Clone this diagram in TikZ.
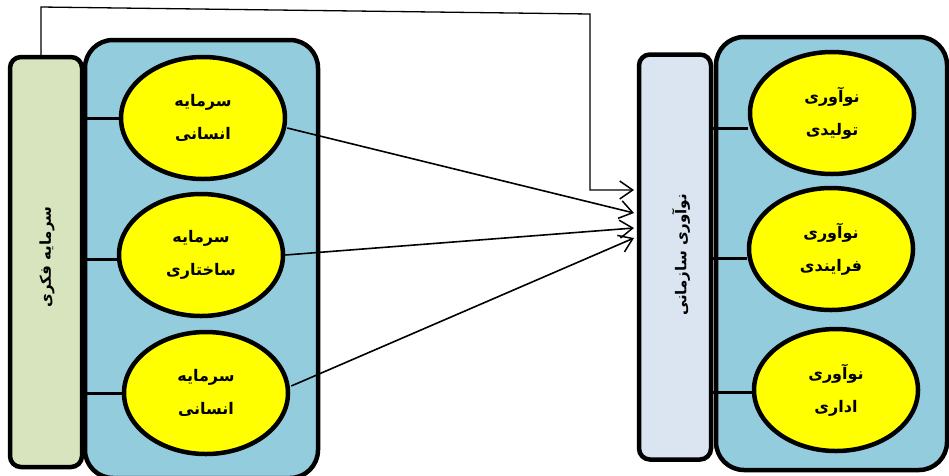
\documentclass[tikz,border=0pt]{standalone}
\usepackage{fontspec}
\usetikzlibrary{shapes.geometric,arrows.meta,calc}
\newfontfamily\fa[Script=Arabic]{DejaVu Sans}
\TeXXeTstate=1
\definecolor{barGreen}{HTML}{D7E4BD}
\definecolor{barBlue}{HTML}{DBE5F1}
\definecolor{boxBlue}{HTML}{93CDDD}
\definecolor{ellYellow}{HTML}{FFFF00}
\newcommand{\fatext}[1]{\beginR #1\endR}
\tikzset{
  bigbox/.style={draw=black, line width=4.5pt, fill=boxBlue, rounded corners=28pt},
  sidebar/.style={draw=black, line width=4.5pt, rounded corners=11pt, minimum width=72pt, minimum height=410pt, inner sep=0pt},
  ell/.style={ellipse, draw=black, line width=4.5pt, fill=ellYellow, minimum width=164pt, minimum height=122pt, inner sep=0pt,
    align=center, font=\fa\bfseries\fontsize{16}{33}\selectfont},
  barlabel/.style={rotate=90, font=\fa\bfseries\fontsize{15}{18}\selectfont},
  link/.style={line width=3pt},
  arr/.style={line width=1.6pt, -{Straight Barb[length=13pt,width=18pt,line width=1.5pt]}},
  fb/.style={line width=1.3pt, -{Straight Barb[length=13pt,width=18pt,line width=1.5pt]}}
}
\begin{document}
\begin{tikzpicture}[x=1pt,y=-1pt]
\useasboundingbox (0,0) rectangle (949,475);
% left group
\draw[bigbox] (85,40) rectangle (318,478);
\node[sidebar, fill=barGreen] (lbar) at (46,262) {};
\node[barlabel] (llab) at (47,257) {\fatext{سرمایه فکری}};
\node[ell] (e1) at (203,118) {\fatext{سرمایه}\\\fatext{انسانی}};
\node[ell] (e2) at (201,255) {\fatext{سرمایه}\\\fatext{ساختاری}};
\node[ell] (e3) at (206,393) {\fatext{سرمایه}\\\fatext{انسانی}};
\draw[link] (lbar.east |- e1.west) -- (e1.west);
\draw[link] (lbar.east |- 0,259) -- (e2.west |- 0,259);
\draw[link] (lbar.east |- e3.west) -- (e3.west);
% right group
\draw[bigbox] (716,37) rectangle (947,470);
\node[sidebar, fill=barBlue, minimum height=405pt] (rbar) at (675,257) {};
\node[barlabel] (rlab) at (681,255) {\fatext{نوآوری سازمانی}};
\node[ell] (r1) at (832,113) {\fatext{نوآوری}\\\fatext{تولیدی}};
\node[ell] (r2) at (831,249) {\fatext{نوآوری}\\\fatext{فرایندی}};
\node[ell] (r3) at (836,390) {\fatext{نوآوری}\\\fatext{اداری}};
\draw[link] (rbar.east |- 0,128) -- (r1.west |- 0,128);
\draw[link] (rbar.east |- 0,258) -- (r2.west |- 0,258);
\draw[link] (rbar.east |- 0,392) -- (r3.west |- 0,392);
% arrows
\coordinate (t0) at (634,190);
\coordinate (t1) at (634,213);
\coordinate (t2) at (634,228);
\coordinate (t3) at (634,238);
\draw[arr] (e1.east |- 0,128) -- (t1);
\draw[arr] (e2.east) -- (t2);
\draw[arr] ($(e3.east)+(1,-7)$) -- (t3);
% feedback line
\coordinate (f0) at ($(lbar.north)+(-5,0)$);
\coordinate (f1) at (41,7);
\coordinate (f2) at (590,14);
\draw[fb] (f0) -- (f1) -- (f2) -- (f2 |- t0) -- (t0);
\end{tikzpicture}
\end{document}
